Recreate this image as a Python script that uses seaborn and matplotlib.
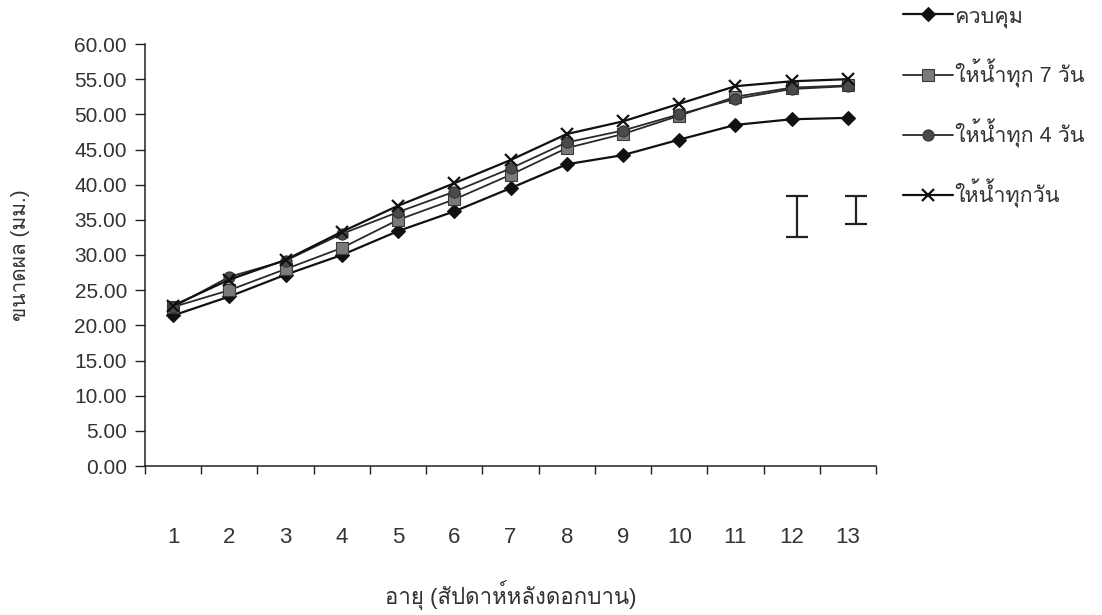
import numpy as np
import pandas as pd
import seaborn as sns
import matplotlib
matplotlib.use("Agg")
import matplotlib.pyplot as plt
from matplotlib import font_manager
from matplotlib.ft2font import FT2Font
from matplotlib.ticker import FixedLocator, NullFormatter, FormatStrFormatter

# Fruit size (mm) by week after full bloom, for four watering regimes
weeks = list(range(1, 14))
control = [21.4, 24.1, 27.2, 30.0, 33.4, 36.2, 39.5, 42.9, 44.2, 46.4, 48.5, 49.3, 49.5]
every_7_days = [22.6, 25.0, 28.0, 31.0, 35.0, 37.9, 41.4, 45.2, 47.2, 49.8, 52.5, 53.8, 54.1]
every_4_days = [22.6, 26.9, 29.2, 33.0, 36.1, 39.0, 42.3, 46.0, 47.7, 50.0, 52.2, 53.6, 54.0]
every_day = [22.8, 26.5, 29.3, 33.3, 37.0, 40.2, 43.5, 47.2, 49.0, 51.5, 54.0, 54.7, 55.0]

series_names = ["ควบคุม", "ให้น้ำทุก 7 วัน", "ให้น้ำทุก 4 วัน", "ให้น้ำทุกวัน"]

# LSD bars drawn at the right-hand end of the plot
lsd_x = [12.1, 13.15]
lsd_low = [32.6, 34.4]
lsd_high = [38.4, 38.4]

y_ticks = list(np.arange(0, 61, 5))
x_label = "อายุ (สัปดาห์หลังดอกบาน)"
y_label = "ขนาดผล (มม.)"


def font_with_thai():
    """Return the name of an installed font that has Thai glyphs, if any."""
    for entry in font_manager.fontManager.ttflist:
        try:
            if 0x0E04 in FT2Font(entry.fname).get_charmap():
                return entry.name
        except Exception:
            continue
    return None


sns.set_theme(style="white")
thai = font_with_thai()
families = ["Liberation Sans"] + ([thai] if thai else []) + ["DejaVu Sans"]
narrow = ["Liberation Sans Narrow"] + families
plt.rcParams["font.family"] = families

text_color = "#333333"

df = pd.DataFrame({
    "week": weeks * 4,
    "size": control + every_7_days + every_4_days + every_day,
    "treatment": sum([[n] * len(weeks) for n in series_names], []),
})

fig = plt.figure(figsize=(11.02, 6.15), dpi=100)
ax = fig.add_axes([145 / 1102, 1 - 466 / 615, 731 / 1102, 422 / 615])

styles = {
    series_names[0]: dict(marker="D", color="#111111", lw=1.6, ms=7,
                          mfc="#111111", mec="#111111"),
    series_names[1]: dict(marker="s", color="#2a2a2a", lw=1.3, ms=8,
                          mfc="#7a7a7a", mec="#3a3a3a"),
    series_names[2]: dict(marker="o", color="#2a2a2a", lw=1.3, ms=8,
                          mfc="#4a4a4a", mec="#333333"),
    series_names[3]: dict(marker="x", color="#111111", lw=1.6, ms=9,
                          mfc="#111111", mec="#111111"),
}

for name in series_names:
    st = styles[name]
    sub = df[df["treatment"] == name]
    sns.lineplot(data=sub, x="week", y="size", ax=ax, label=name,
                 color=st["color"], linewidth=st["lw"], marker=st["marker"],
                 markersize=st["ms"], markerfacecolor=st["mfc"],
                 markeredgecolor=st["mec"],
                 markeredgewidth=1.6 if st["marker"] == "x" else 0.8)

# LSD bars
centers = [(lo + hi) / 2 for lo, hi in zip(lsd_low, lsd_high)]
halves = [(hi - lo) / 2 for lo, hi in zip(lsd_low, lsd_high)]
ax.errorbar(lsd_x, centers, yerr=halves, fmt="none", ecolor="#222222",
            elinewidth=1.6, capsize=8, capthick=1.6)

ax.set_xlim(0.5, 13.5)
ax.set_ylim(0, 60)

for side in ("top", "right"):
    ax.spines[side].set_visible(False)
for side in ("left", "bottom"):
    ax.spines[side].set_color("#222222")
    ax.spines[side].set_linewidth(1.1)

# y axis
ax.yaxis.set_major_locator(FixedLocator(y_ticks))
ax.yaxis.set_major_formatter(FormatStrFormatter("%.2f"))
ax.tick_params(axis="y", which="major", direction="out", length=7, width=1.0,
               color="#222222", labelsize=15, labelcolor=text_color, pad=6, left=True)

# x axis: tick marks on category boundaries, labels at category centres
ax.xaxis.set_major_locator(FixedLocator(np.arange(0.5, 14, 1.0)))
ax.xaxis.set_major_formatter(NullFormatter())
ax.set_xticks(weeks, [str(w) for w in weeks], minor=True)
ax.tick_params(axis="x", which="major", direction="out", length=6, width=1.0,
               color="#222222", bottom=True)
ax.tick_params(axis="x", which="minor", length=0, pad=44, labelsize=16,
               labelcolor=text_color, bottom=True)
for lbl in ax.get_xticklabels(minor=True):
    lbl.set_fontfamily(narrow)

ax.set_xlabel(x_label, fontsize=16, color=text_color, family=narrow)
ax.xaxis.set_label_coords(0.5, -0.27)
ax.set_ylabel(y_label, fontsize=15, color=text_color)
ax.yaxis.set_label_coords(-0.158, 0.5)

leg = ax.legend(loc="upper left", bbox_to_anchor=(903 / 1102, 1 - 6 / 615),
                bbox_transform=fig.transFigure, frameon=False, borderpad=0,
                borderaxespad=0, handlelength=2.3, handletextpad=0.1,
                labelspacing=1.45, fontsize=15.5)
for t in leg.get_texts():
    t.set_color(text_color)

fig.savefig("out.png", dpi=100, facecolor="white")
